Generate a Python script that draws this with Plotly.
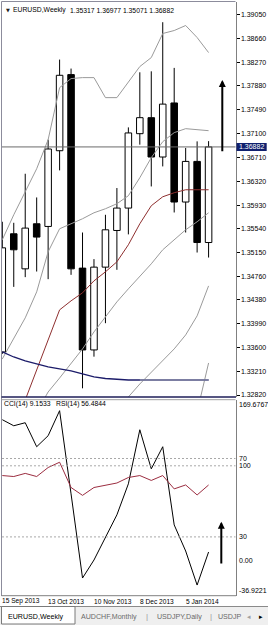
import plotly.graph_objects as go

W, H = 268, 625

# ---------------- data ----------------
weeks = ["15 Sep 2013", "22 Sep 2013", "29 Sep 2013", "6 Oct 2013", "13 Oct 2013",
         "20 Oct 2013", "27 Oct 2013", "3 Nov 2013", "10 Nov 2013", "17 Nov 2013",
         "24 Nov 2013", "1 Dec 2013", "8 Dec 2013", "15 Dec 2013", "22 Dec 2013",
         "29 Dec 2013", "5 Jan 2014", "12 Jan 2014", "19 Jan 2014"]
opens = [1.33525, 1.35460, 1.34886, 1.35624, 1.35580, 1.36820, 1.38066, 1.34898, 1.33558, 1.34914,
         1.35514, 1.35881, 1.37099, 1.37361, 1.36717, 1.37602, 1.35980, 1.36645, 1.35317]
highs = [1.35657, 1.35640, 1.36443, 1.36055, 1.37001, 1.38312, 1.38165, 1.35481, 1.35045, 1.35771,
         1.36209, 1.37202, 1.38104, 1.38120, 1.38924, 1.38176, 1.36865, 1.36973, 1.36977]
lows = [1.33493, 1.34591, 1.34750, 1.34842, 1.34717, 1.36498, 1.34788, 1.32930, 1.33448, 1.33996,
        1.34870, 1.35450, 1.36919, 1.36235, 1.36563, 1.35809, 1.35481, 1.35153, 1.35071]
closes = [1.35230, 1.35198, 1.35553, 1.35406, 1.36848, 1.38055, 1.34886, 1.33558, 1.34914, 1.35525,
          1.35881, 1.37111, 1.37361, 1.36717, 1.37583, 1.35980, 1.36645, 1.35317, 1.36882]

band_upper = [1.35362, 1.35771, 1.36148, 1.36525, 1.37001, 1.37853, 1.38001, 1.38017, 1.38017, 1.37689,
              1.37689, 1.37952, 1.38198, 1.38345, 1.38739, 1.38788, 1.38870, 1.38673, 1.38427]
band_mid = [1.33411, 1.33755, 1.34083, 1.34509, 1.35165, 1.35542, 1.35624, 1.35706, 1.35804, 1.35870,
            1.35952, 1.36083, 1.36378, 1.36706, 1.36968, 1.37116, 1.37181, 1.37165, 1.37148]
ma_red = [1.31755, 1.32247, 1.32739, 1.33214, 1.33722, 1.34214, 1.34362, 1.34493, 1.34689, 1.34837,
          1.35001, 1.35280, 1.35624, 1.35919, 1.36066, 1.36132, 1.36181, 1.36181, 1.36181]
band_low1 = [None, None, None, 1.32542, 1.32870, 1.33099, 1.33329, 1.33575, 1.33853, 1.34099,
             1.34345, 1.34558, 1.34755, 1.34968, 1.35198, 1.35362, 1.35525, 1.35657, 1.35804]
band_low2 = [None, None, None, None, None, None, None, None, None, None,
             1.32542, 1.32788, 1.33001, 1.33198, 1.33394, 1.33575, 1.33804, 1.34116, 1.34607]
band_low3 = [None, None, None, None, None, None, None, None, None, None,
             None, None, None, None, None, None, None, 1.32542, 1.33345]
ma_navy = [1.33525, 1.33443, 1.33378, 1.33329, 1.33280, 1.33247, 1.33214, 1.33165, 1.33116, 1.33091,
           1.33075, 1.33066, 1.33066, 1.33066, 1.33066, 1.33066, 1.33066, 1.33066, 1.33066]

cci = [148.6, 142.2, 145.4, 120.1, 131.7, 158.1, 70.4, -18.3, 0.7, 24.0,
       48.3, 81.0, 138.0, 96.8, 120.1, 37.7, 10.2, -25.7, 9.1533]
rsi = [61.3, 60.8, 62.4, 60.8, 65.4, 68.1, 55.2, 51.2, 55.2, 56.3,
       57.5, 60.3, 61.3, 58.8, 61.3, 54.5, 56.5, 51.4, 56.4844]

x_tick_labels = ["15 Sep 2013", "13 Oct 2013", "10 Nov 2013", "8 Dec 2013", "5 Jan 2014"]
price_ticks = [1.39050, 1.38660, 1.38270, 1.37880, 1.37490, 1.37100, 1.36710, 1.36320, 1.35930,
               1.35540, 1.35150, 1.34760, 1.34380, 1.33990, 1.33600, 1.33210, 1.32820]
price_tick_labels = ["1.39050", "1.38660", "1.38270", "1.37880", "1.37490", "1.37100", "1.36710",
                     "1.36320", "1.35930", "1.35540", "1.35150", "1.34760", "1.34380", "1.33990",
                     "1.33600", "1.33210", "1.32820"]
price_range = [1.327877, 1.392631]
cci_range = [-36.9221, 169.6767]
cci_scale = [169.6767, 100, 0.0, -36.9221]
cci_scale_labels = ["169.6767", "100", "0.00", "-36.9221"]
cci_levels = [100]
rsi_range = [0, 100]
rsi_levels = [70, 30]
rsi_level_labels = ["70", "30"]

symbol_title = "EURUSD,Weekly"
tabs = ["EURUSD,Weekly", "AUDCHF,Monthly", "USDJPY,Daily", "USDJP"]

# ---------------- helpers ----------------
FONT = "Liberation Sans, Arial, sans-serif"


def px(v):
    return v / W


def py(v):
    return 1 - v / H


n = len(weeks)
idx = list(range(n))
X_RANGE = [-0.026, 20.349]
X_DOM = [px(2), px(235.5)]

fig = go.Figure()

# wicks (outside the body)
wx, wy = [], []
for i in idx:
    top = max(opens[i], closes[i])
    bot = min(opens[i], closes[i])
    wx += [i, i, None, i, i, None]
    wy += [highs[i], top, None, bot, lows[i], None]
fig.add_trace(go.Scatter(x=wx, y=wy, mode="lines", line=dict(color="black", width=1),
                         hoverinfo="skip", xaxis="x", yaxis="y"))

up = [i for i in idx if closes[i] >= opens[i]]
dn = [i for i in idx if closes[i] < opens[i]]
fig.add_trace(go.Bar(x=up, y=[closes[i] - opens[i] for i in up], base=[opens[i] for i in up],
                     width=0.57, marker=dict(color="white", line=dict(color="black", width=1)),
                     xaxis="x", yaxis="y", hoverinfo="skip"))
fig.add_trace(go.Bar(x=dn, y=[opens[i] - closes[i] for i in dn], base=[closes[i] for i in dn],
                     width=0.57, marker=dict(color="black", line=dict(color="black", width=1)),
                     xaxis="x", yaxis="y", hoverinfo="skip"))

GRAY = "#9a9a9a"
for series, col, wdt in [(band_upper, GRAY, 1), (band_mid, GRAY, 1), (band_low1, GRAY, 1),
                         (band_low2, GRAY, 1), (band_low3, GRAY, 1), (ma_red, "#8e2f2f", 1),
                         (ma_navy, "#1c1c6a", 1.3)]:
    fig.add_trace(go.Scatter(x=idx, y=series, mode="lines", line=dict(color=col, width=wdt),
                             connectgaps=False, hoverinfo="skip", xaxis="x", yaxis="y"))
# lighter overlay at the end of the navy line
fig.add_trace(go.Scatter(x=idx[12:], y=ma_navy[12:], mode="lines",
                         line=dict(color="#8a8ca8", width=1.3), hoverinfo="skip",
                         xaxis="x", yaxis="y"))

# indicator pane
fig.add_trace(go.Scatter(x=idx, y=rsi, mode="lines", line=dict(color="#9b2d40", width=1),
                         hoverinfo="skip", xaxis="x2", yaxis="y3"))
fig.add_trace(go.Scatter(x=idx, y=cci, mode="lines", line=dict(color="black", width=1),
                         hoverinfo="skip", xaxis="x2", yaxis="y2"))

shapes = []
# current price line
shapes.append(dict(type="line", xref="paper", yref="y", x0=X_DOM[0], x1=X_DOM[1],
                   y0=closes[-1], y1=closes[-1], line=dict(color="#6a6a6a", width=1)))
# level lines
for lv in rsi_levels:
    shapes.append(dict(type="line", xref="paper", yref="y3", x0=X_DOM[0], x1=X_DOM[1],
                       y0=lv, y1=lv, line=dict(color="#a8a8a8", width=1, dash="2px,2px")))
for lv in cci_levels:
    shapes.append(dict(type="line", xref="paper", yref="y2", x0=X_DOM[0], x1=X_DOM[1],
                       y0=lv, y1=lv, line=dict(color="#a8a8a8", width=1, dash="2px,2px")))
# frames
FR = "#8c8c9c"
shapes += [
    dict(type="line", xref="paper", yref="paper", x0=px(1.5), x1=px(1.5), y0=py(1.5), y1=py(596),
         line=dict(color=FR, width=1)),
    dict(type="line", xref="paper", yref="paper", x0=px(1.5), x1=px(235.5), y0=py(1.5), y1=py(1.5),
         line=dict(color=FR, width=1)),
    dict(type="line", xref="paper", yref="paper", x0=px(1.5), x1=px(236), y0=py(397), y1=py(397),
         line=dict(color="#1e1e58", width=1.6)),
    dict(type="line", xref="paper", yref="paper", x0=px(1.5), x1=px(235.5), y0=py(399.7), y1=py(399.7),
         line=dict(color="#a0a0a0", width=1)),
    dict(type="line", xref="paper", yref="paper", x0=px(1.5), x1=px(236), y0=py(595.7), y1=py(595.7),
         line=dict(color="#808080", width=1)),
]
# price box behind the last price label
shapes.append(dict(type="rect", xref="paper", yref="y", ysizemode="pixel", yanchor=closes[-1],
                   x0=px(236.5), x1=px(266.7), y0=-4, y1=4, fillcolor="#10206e",
                   line=dict(width=0)))
# tab bar
shapes += [
    dict(type="rect", xref="paper", yref="paper", x0=0, x1=1, y0=0, y1=py(606.5),
         fillcolor="#efefef", line=dict(width=0), layer="below"),
    dict(type="line", xref="paper", yref="paper", x0=0, x1=1, y0=py(606.5), y1=py(606.5),
         line=dict(color="#8a8a8a", width=1)),
    dict(type="rect", xref="paper", yref="paper", x0=px(1.5), x1=px(75), y0=py(624), y1=py(606.5),
         fillcolor="white", line=dict(color="#7a7a7a", width=1)),
]

ann = []
txt = dict(family=FONT, size=6.8, color="black")
# header
ann.append(dict(x=px(4), y=py(10), xref="paper", yref="paper", text="\u25bc", showarrow=False,
                xanchor="left", yanchor="middle", font=dict(family="DejaVu Sans", size=5, color="#202020")))
ann.append(dict(x=px(10.8), y=py(10), xref="paper", yref="paper", text=symbol_title, showarrow=False,
                xanchor="left", yanchor="middle", font=txt))
ann.append(dict(x=px(68), y=py(10), xref="paper", yref="paper",
                text=f"{opens[-1]:.5f} {highs[-1]:.5f} {lows[-1]:.5f} {closes[-1]:.5f}",
                showarrow=False, xanchor="left", yanchor="middle", font=txt))
# indicator header
ann.append(dict(x=px(2.3), y=py(404), xref="paper", yref="paper", text=f"CCI(14) {cci[-1]:.4f}",
                showarrow=False, xanchor="left", yanchor="middle", font=txt))
ann.append(dict(x=px(54), y=py(404), xref="paper", yref="paper", text=f"RSI(14) {rsi[-1]:.4f}",
                showarrow=False, xanchor="left", yanchor="middle", font=txt))
# price box text
ann.append(dict(x=px(251.6), y=closes[-1], xref="paper", yref="y", text=f"{closes[-1]:.5f}",
                showarrow=False, xanchor="center", yanchor="middle",
                font=dict(family=FONT, size=7, color="white")))
# indicator scale labels
shifts = {0: -4.5, len(cci_scale) - 1: 5.5}
for k, (v, lab) in enumerate(zip(cci_scale, cci_scale_labels)):
    ann.append(dict(x=px(237), y=v, xref="paper", yref="y2", text=lab, showarrow=False,
                    xanchor="left", yanchor="middle", yshift=shifts.get(k, 0),
                    font=dict(family=FONT, size=7, color="black")))
for v, lab in zip(rsi_levels, rsi_level_labels):
    ann.append(dict(x=px(237), y=v, xref="paper", yref="y3", text=lab, showarrow=False,
                    xanchor="left", yanchor="middle", font=dict(family=FONT, size=7, color="black")))
# time labels
for lab in x_tick_labels:
    ann.append(dict(x=weeks.index(lab), y=py(601), xref="x2", yref="paper", text=lab,
                    showarrow=False, xanchor="left", yanchor="middle", xshift=-2,
                    font=dict(family=FONT, size=6.6, color="black")))
# arrows
ann.append(dict(x=px(222.3), y=py(80), xref="paper", yref="paper", ax=0, ay=72.7, text="",
                showarrow=True, arrowhead=2, arrowsize=0.7, arrowwidth=2, arrowcolor="black"))
ann.append(dict(x=px(221.3), y=py(521.7), xref="paper", yref="paper", ax=0, ay=43.3, text="",
                showarrow=True, arrowhead=2, arrowsize=0.7, arrowwidth=2, arrowcolor="black"))
# tabs
tab_pos = [7.3, 80, 155.7, 217]
tab_col = ["black", "#6a6a6a", "#6a6a6a", "#6a6a6a"]
for lab, xp, col in zip(tabs, tab_pos, tab_col):
    ann.append(dict(x=px(xp), y=py(616.7), xref="paper", yref="paper", text=lab, showarrow=False,
                    xanchor="left", yanchor="middle", borderpad=0,
                    font=dict(family=FONT, size=7.1, color=col)))
for xp in [147, 211]:
    ann.append(dict(x=px(xp), y=py(616.5), xref="paper", yref="paper", text="|", showarrow=False,
                    xanchor="center", yanchor="middle", font=dict(family=FONT, size=8, color="#9a9a9a")))
ann.append(dict(x=px(249), y=py(616.5), xref="paper", yref="paper", text="\u25c2", showarrow=False,
                xanchor="center", yanchor="middle", font=dict(family="DejaVu Sans", size=7, color="#a0a0a0")))
ann.append(dict(x=px(260.7), y=py(616.5), xref="paper", yref="paper", text="\u25b8", showarrow=False,
                xanchor="center", yanchor="middle", font=dict(family="DejaVu Sans", size=7, color="black")))

fig.update_layout(
    width=W, height=H, margin=dict(l=0, r=0, t=0, b=0),
    paper_bgcolor="white", plot_bgcolor="white", showlegend=False, barmode="overlay",
    font=dict(family=FONT, size=7, color="black"),
    xaxis=dict(domain=X_DOM, range=X_RANGE, anchor="y", visible=False, fixedrange=True),
    yaxis=dict(domain=[py(397), py(1.5)], range=price_range, anchor="x", side="right",
               tickvals=price_ticks, ticktext=price_tick_labels, ticks="outside", ticklen=3,
               tickcolor="black", tickwidth=1, showline=True, linecolor="#808080", linewidth=1,
               showgrid=False, zeroline=False, tickfont=dict(family=FONT, size=7, color="black")),
    xaxis2=dict(domain=X_DOM, range=X_RANGE, anchor="y2", visible=False, fixedrange=True),
    yaxis2=dict(domain=[py(595.7), py(399.7)], range=cci_range, anchor="x2", side="right",
                showticklabels=False, ticks="", showline=True, linecolor="#808080", linewidth=1,
                showgrid=False, zeroline=False),
    yaxis3=dict(range=rsi_range, overlaying="y2", anchor="x2", side="right", visible=False),
    shapes=shapes, annotations=ann,
)

fig.write_html("out.html")
